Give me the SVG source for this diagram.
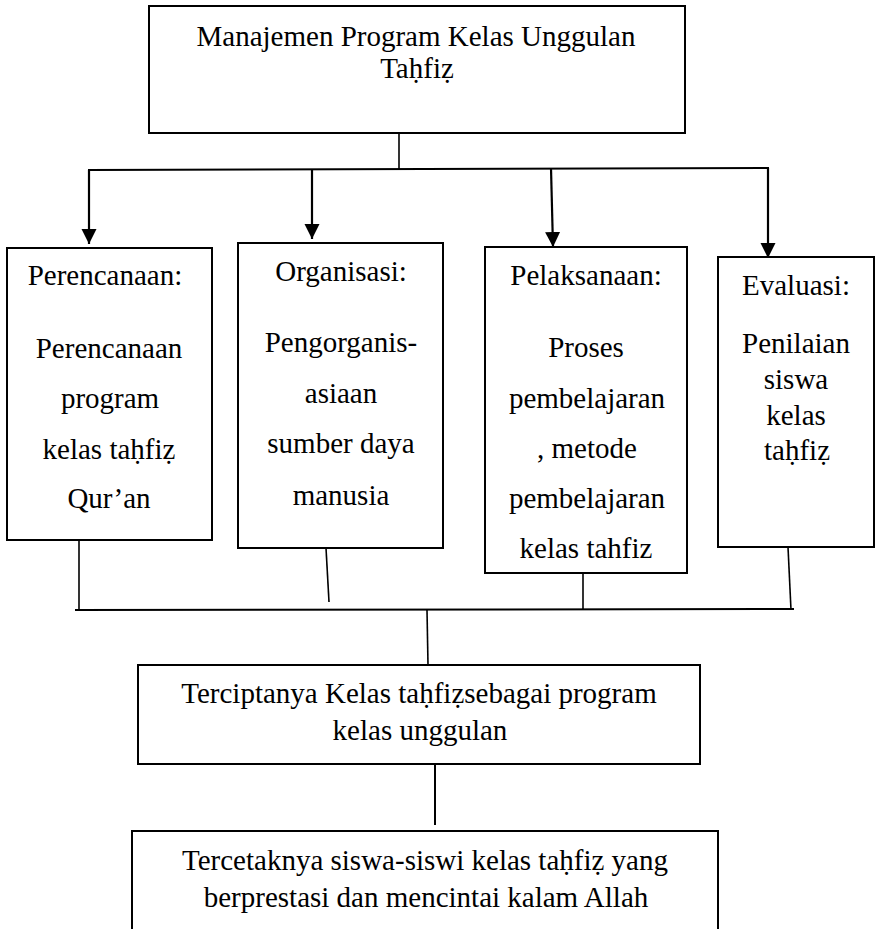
<svg xmlns="http://www.w3.org/2000/svg" width="881" height="929" viewBox="0 0 881 929">
<style>
.box{fill:#fff;stroke:#000;stroke-width:2}
.t{font-family:"Liberation Serif","Times New Roman",serif;font-size:29px;fill:#000;text-anchor:middle}
.ln{stroke:#000;stroke-width:1.6;fill:none}
.ar{stroke:#000;stroke-width:2.2;fill:none;marker-end:url(#ah)}
</style>
<defs>
<marker id="ah" markerUnits="userSpaceOnUse" markerWidth="16" markerHeight="16" viewBox="0 0 16 16" refX="15" refY="7.5" orient="auto">
<path d="M0,0 L15,7.5 L0,15 z" fill="#000"/>
</marker>
</defs>
<rect width="881" height="929" fill="#fff"/>
<g id="connectors">
<line class="ln" x1="399" y1="133" x2="399" y2="169"/>
<line class="ln" x1="88" y1="170" x2="769" y2="168" style="stroke-width:2"/>
<line class="ar" x1="89" y1="170" x2="89" y2="244"/>
<line class="ar" x1="312" y1="169" x2="312" y2="239"/>
<line class="ar" x1="551" y1="168" x2="553" y2="247"/>
<line class="ar" x1="768" y1="168" x2="768" y2="258"/>
<line class="ln" x1="79" y1="538" x2="79" y2="610"/>
<line class="ln" x1="326" y1="548" x2="329" y2="602"/>
<line class="ln" x1="583" y1="568" x2="583" y2="610"/>
<line class="ln" x1="788" y1="547" x2="791" y2="610"/>
<line class="ln" x1="75" y1="610" x2="794" y2="609" style="stroke-width:2"/>
<line class="ln" x1="427" y1="610" x2="428" y2="665"/>
<line class="ln" x1="435" y1="757" x2="435" y2="825" style="stroke-width:2"/>
</g>
<g id="top">
<rect class="box" x="149" y="6" width="536" height="127"/>
<text class="t" x="416" y="46">Manajemen Program Kelas Unggulan</text>
<text class="t" x="417" y="78">Taḥfiẓ</text>
</g>
<g id="perencanaan">
<rect class="box" x="7" y="248" width="205" height="292"/>
<text class="t" x="105" y="285">Perencanaan:</text>
<text class="t" x="109" y="358">Perencanaan</text>
<text class="t" x="110" y="408">program</text>
<text class="t" x="109" y="459">kelas taḥfiẓ</text>
<text class="t" x="109" y="508">Qur’an</text>
</g>
<g id="organisasi">
<rect class="box" x="238" y="243" width="205" height="305"/>
<text class="t" x="341" y="281">Organisasi:</text>
<text class="t" x="341" y="352">Pengorganis-</text>
<text class="t" x="341" y="403">asiaan</text>
<text class="t" x="341" y="453">sumber daya</text>
<text class="t" x="341" y="505">manusia</text>
</g>
<g id="pelaksanaan">
<rect class="box" x="485" y="247" width="202" height="326"/>
<text class="t" x="586" y="285">Pelaksanaan:</text>
<text class="t" x="586" y="357">Proses</text>
<text class="t" x="587" y="408">pembelajaran</text>
<text class="t" x="587" y="458">, metode</text>
<text class="t" x="587" y="508">pembelajaran</text>
<text class="t" x="586" y="558">kelas tahfiz</text>
</g>
<g id="evaluasi">
<rect class="box" x="718" y="257" width="156" height="290"/>
<text class="t" x="796" y="295">Evaluasi:</text>
<text class="t" x="796" y="353">Penilaian</text>
<text class="t" x="796" y="389">siswa</text>
<text class="t" x="796" y="425">kelas</text>
<text class="t" x="797" y="460">taḥfiẓ</text>
</g>
<g id="terciptanya">
<rect class="box" x="138" y="665" width="562" height="99"/>
<text class="t" x="419" y="703">Terciptanya Kelas taḥfiẓsebagai program</text>
<text class="t" x="420" y="740">kelas unggulan</text>
</g>
<g id="tercetaknya">
<rect class="box" x="132" y="831" width="586" height="120"/>
<text class="t" x="425" y="870">Tercetaknya siswa-siswi kelas taḥfiẓ yang</text>
<text class="t" x="426" y="907">berprestasi dan mencintai kalam Allah</text>
</g>
</svg>
